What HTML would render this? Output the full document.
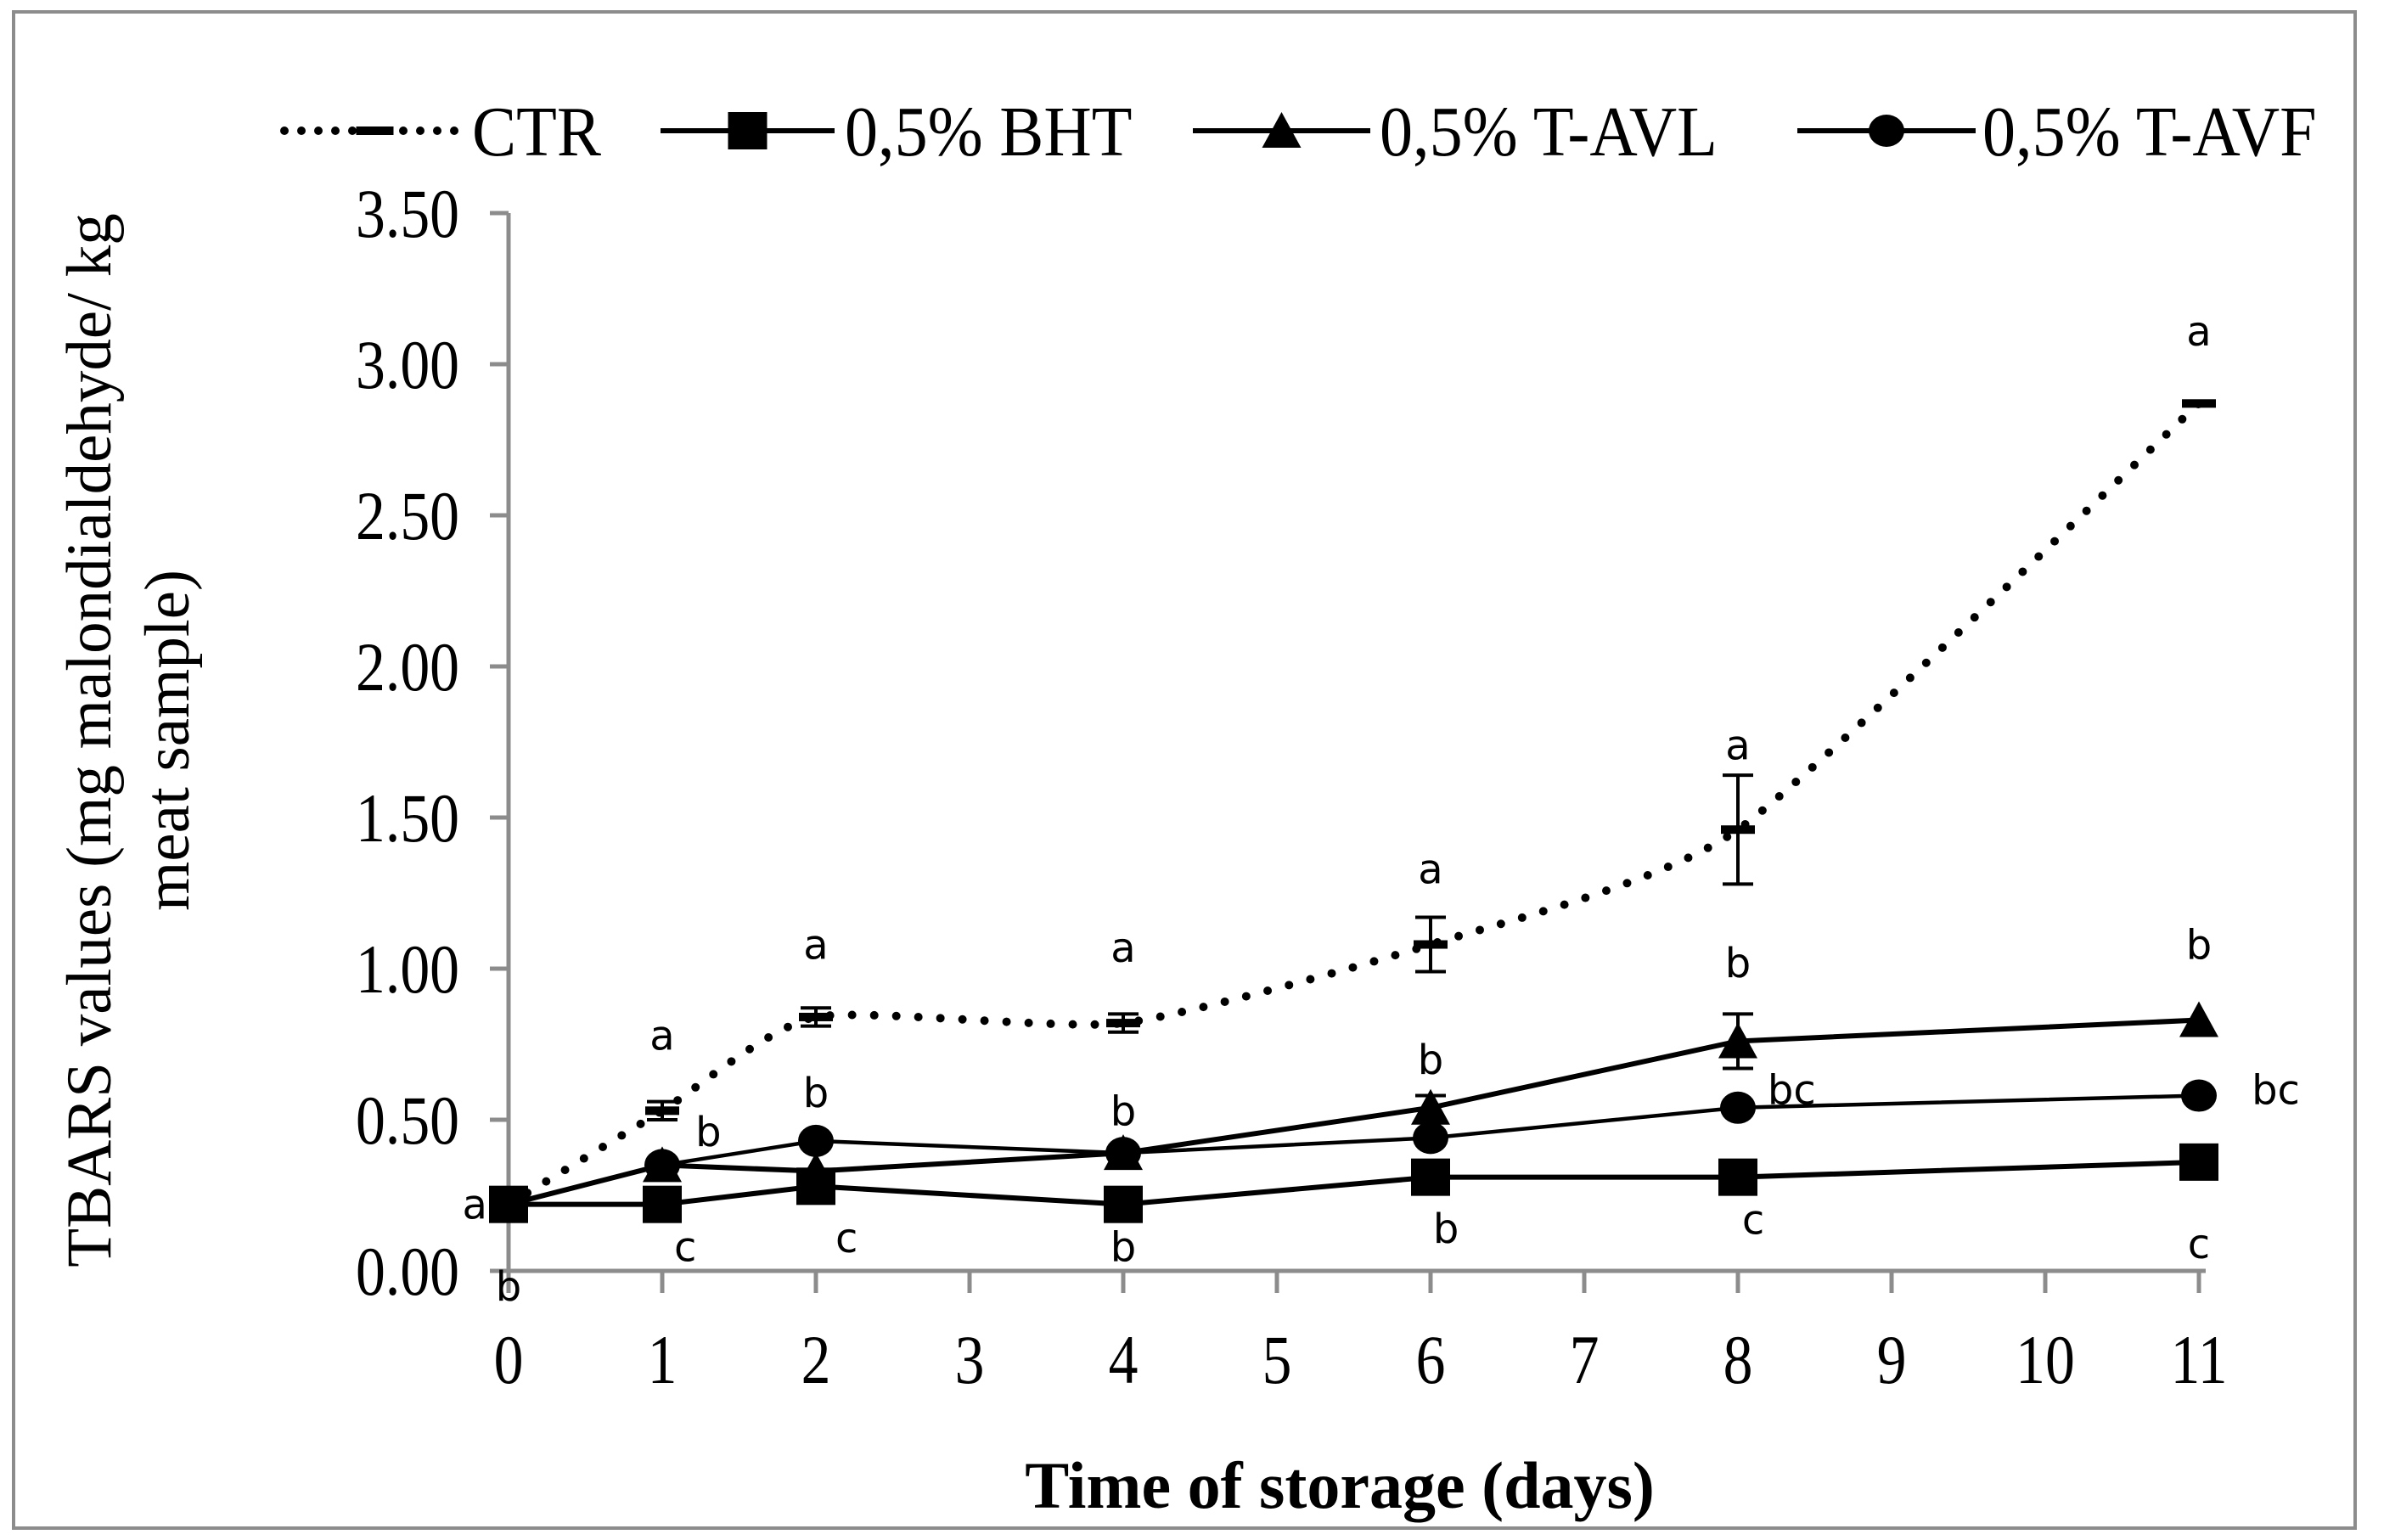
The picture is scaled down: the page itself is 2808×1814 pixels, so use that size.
<!DOCTYPE html>
<html><head><meta charset="utf-8"><style>
html,body{margin:0;padding:0;background:#fff;}
svg{display:block;}
</style></head><body>
<svg id="chart" width="2808" height="1814" viewBox="0 0 2808 1814" xmlns="http://www.w3.org/2000/svg">
<rect x="16" y="14" width="2758" height="1786" fill="#fff" stroke="#8c8c8c" stroke-width="4"/>
<g id="axes"></g>
<g id="series"></g>
<g id="letters"></g>
<g id="legend"></g>
<text x="1578" y="1776" text-anchor="middle" font-family="Liberation Serif, serif" font-weight="bold" font-size="78">Time of storage (days)</text>
<g transform="translate(158,872) rotate(-90)">
<text x="0" y="-28" text-anchor="middle" font-family="Liberation Serif, serif" font-size="75">TBARS values (mg malondialdehyde/ kg</text>
<text x="0" y="64" text-anchor="middle" font-family="Liberation Serif, serif" font-size="75">meat sample)</text>
</g>
</svg>
<script>
const days = [0, 1, 2, 4, 6, 8, 11];
const xTicks = [0,1,2,3,4,5,6,7,8,9,10,11];
const yTicks = [0, 0.5, 1, 1.5, 2, 2.5, 3, 3.5];
const yTickLabels = ["0.00","0.50","1.00","1.50","2.00","2.50","3.00","3.50"];
const ctrValues = [0.22, 0.53, 0.84, 0.82, 1.08, 1.46, 2.87];
const ctrErrors = [0, 0.03, 0.03, 0.03, 0.09, 0.18, 0];
const bhtValues = [0.22, 0.22, 0.28, 0.22, 0.31, 0.31, 0.36];
const avlValues = [0.22, 0.35, 0.33, 0.39, 0.54, 0.76, 0.83];
const avlErrors = [0, 0, 0, 0, 0.04, 0.09, 0];
const avfValues = [0.22, 0.35, 0.43, 0.39, 0.44, 0.54, 0.58];
const letterText = ["a","a","a","a","a","a","a","b","b","b","b","b","b","bc","bc","b","c","c","b","b","c","c"];
const letterDay  = [-0.22,1,2,4,6,8,11, 1.3,2,4,6,8,11, 8.35,11.5, 0,1.15,2.2,4,6.1,8.1,11];
const letterVal  = [0.22,0.78,1.08,1.07,1.33,1.74,3.11, 0.46,0.59,0.53,0.70,1.02,1.08, 0.60,0.60, -0.05,0.08,0.11,0.08,0.14,0.17,0.09];

const NS = "http://www.w3.org/2000/svg";
const X0 = 599, DX = 181, Y0 = 1497, DY = 356;
function sx(d){ return X0 + DX*d; }
function sy(v){ return Y0 - DY*v; }
function mk(tag, attrs, parent){
  const e = document.createElementNS(NS, tag);
  for (const k in attrs) e.setAttribute(k, attrs[k]);
  parent.appendChild(e);
  return e;
}
const axes = document.getElementById('axes');
const series = document.getElementById('series');
const letters = document.getElementById('letters');
const legend = document.getElementById('legend');
const AX = "#8c8c8c";

let yl = mk('line',{x1:sx(0),y1:sy(3.5),x2:sx(0),y2:sy(0),stroke:AX,'stroke-width':5},axes);


let xl = mk('line',{x1:sx(0),y1:sy(0),x2:sx(11)+8,y2:sy(0),stroke:AX,'stroke-width':5},axes);



yTicks.forEach((v,i)=>{
  let t = mk('line',{x1:sx(0)-22,y1:sy(v),x2:sx(0),y2:sy(v),stroke:AX,'stroke-width':5},axes);
  
  
  let l = mk('text',{x:0,y:0,'text-anchor':'end','font-family':'Liberation Serif, serif','font-size':82,transform:`translate(${sx(0)-58},${sy(v)+28}) scale(0.85,1)`},axes);
  
  
  l.textContent = yTickLabels[i];
});
xTicks.forEach(d=>{
  let t = mk('line',{x1:sx(d),y1:sy(0),x2:sx(d),y2:sy(0)+26,stroke:AX,'stroke-width':5},axes);
  
  
  let l = mk('text',{x:0,y:0,'text-anchor':'middle','font-family':'Liberation Serif, serif','font-size':82,transform:`translate(${sx(d)},${sy(0)+132}) scale(0.85,1)`},axes);
  
  
  l.textContent = String(d);
});

function smoothPath(pts){
  let d = `M${pts[0][0]},${pts[0][1]}`;
  for (let i=0;i<pts.length-1;i++){
    const p0 = pts[i-1]||pts[i], p1=pts[i], p2=pts[i+1], p3=pts[i+2]||p2;
    const t=0.1;
    const c1=[p1[0]+(p2[0]-p0[0])*t, p1[1]+(p2[1]-p0[1])*t];
    const c2=[p2[0]-(p3[0]-p1[0])*t, p2[1]-(p3[1]-p1[1])*t];
    d += ` C${c1[0]},${c1[1]} ${c2[0]},${c2[1]} ${p2[0]},${p2[1]}`;
  }
  return d;
}
function linePts(vals){ return days.map((d,i)=>sx(d)+','+sy(vals[i])).join(' '); }

function errBars(vals, errs, name){
  days.forEach((d,i)=>{
    if (!errs[i]) return;
    const x=sx(d), y1=sy(vals[i]+errs[i]), y2=sy(vals[i]-errs[i]);
    const g = mk('g',{stroke:'#000','stroke-width':4},series);
    
    
    mk('line',{x1:x,y1:y1,x2:x,y2:y2},g);
    mk('line',{x1:x-18,y1:y1,x2:x+18,y2:y1},g);
    mk('line',{x1:x-18,y1:y2,x2:x+18,y2:y2},g);
  });
}

let bl = mk('polyline',{points:linePts(bhtValues),fill:'none',stroke:'#000','stroke-width':6},series);


let fl = mk('polyline',{points:linePts(avfValues),fill:'none',stroke:'#000','stroke-width':4.5},series);


let al = mk('polyline',{points:linePts(avlValues),fill:'none',stroke:'#000','stroke-width':6},series);


errBars(avlValues, avlErrors, 'avl-error-bar');

days.forEach((d,i)=>{
  const x=sx(d);
  let tr = mk('polygon',{points:`${x-23},${sy(avlValues[i])+20} ${x+23},${sy(avlValues[i])+20} ${x},${sy(avlValues[i])-22}`,fill:'#000'},series);
  
  
  let c = mk('ellipse',{cx:x,cy:sy(avfValues[i]),rx:21,ry:19,fill:'#000'},series);
  
  
  let s = mk('rect',{x:x-23,y:sy(bhtValues[i])-22,width:46,height:44,fill:'#000'},series);
  
  
});

const ctrPts = days.map((d,i)=>[sx(d), sy(ctrValues[i])]);
let cl = mk('path',{d:smoothPath(ctrPts),fill:'none',stroke:'#000','stroke-width':10,'stroke-linecap':'round','stroke-dasharray':'0 26'},series);


errBars(ctrValues, ctrErrors, 'ctr-error-bar');
days.forEach((d,i)=>{
  let m = mk('rect',{x:sx(d)-20,y:sy(ctrValues[i])-5,width:40,height:10,fill:'#000'},series);
  
  
});

letterText.forEach((t,i)=>{
  let e = mk('text',{x:sx(letterDay[i]),y:sy(letterVal[i])+17,'text-anchor':'middle','font-family':'DejaVu Sans, sans-serif','font-size':48},letters);
  
  
  e.textContent = t;
});

const LY = 154;
function legItem(x1,x2,tx,label,kind,name){
  const g = mk('g',{},legend);
  
  
  const cx=(x1+x2)/2;
  if (kind==='ctr'){
    mk('line',{x1:x1,y1:LY,x2:x2,y2:LY,stroke:'#000','stroke-width':10,'stroke-linecap':'round','stroke-dasharray':'0 20'},g);
    mk('rect',{x:cx-22,y:LY-5,width:44,height:10,fill:'#000'},g);
  } else {
    mk('line',{x1:x1,y1:LY,x2:x2,y2:LY,stroke:'#000','stroke-width':6},g);
    if (kind==='sq') mk('rect',{x:cx-23,y:LY-22,width:46,height:44,fill:'#000'},g);
    if (kind==='tri') mk('polygon',{points:`${cx-23},${LY+20} ${cx+23},${LY+20} ${cx},${LY-22}`,fill:'#000'},g);
    if (kind==='cir') mk('ellipse',{cx:cx,cy:LY,rx:21,ry:19,fill:'#000'},g);
  }
  const t = mk('text',{x:0,y:0,'font-family':'Liberation Serif, serif','font-size':84,transform:`translate(${tx},${LY+29}) scale(0.93,1)`},g);
  t.textContent = label;
}
legItem(335,548,556,'CTR','ctr','legend-entry-ctr');
legItem(778,983,995,'0,5% BHT','sq','legend-entry-bht');
legItem(1405,1614,1625,'0,5% T-AVL','tri','legend-entry-avl');
legItem(2117,2327,2335,'0,5% T-AVF','cir','legend-entry-avf');
</script>
</body></html>
